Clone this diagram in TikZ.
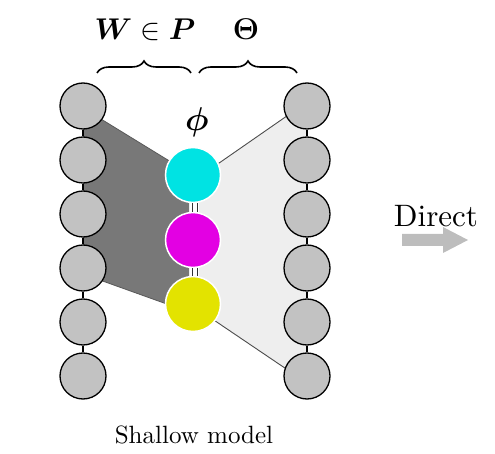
\RequirePackage{fix-cm}
\documentclass[tikz,border=0pt]{standalone}
\usepackage{amsmath,bm}
\usepackage{fontspec}
\setmainfont{lmroman10-regular}[Extension=.otf,BoldFont=lmroman10-bold]
\usetikzlibrary{decorations.pathreplacing}
\definecolor{unitgray}{HTML}{C2C2C2}
\definecolor{darkpoly}{HTML}{787878}
\definecolor{lightpoly}{HTML}{EEEEEE}
\definecolor{mycyan}{HTML}{00E3E3}
\definecolor{mymagenta}{HTML}{E300E3}
\definecolor{myyellow}{HTML}{E3E300}
\definecolor{arrowgray}{HTML}{BDBDBD}
\tikzset{
  unit/.style={circle,draw=black,line width=1.3pt,fill=unitgray,minimum size=46pt,inner sep=0pt},
  hidden/.style={circle,draw=white,line width=1.5pt,minimum size=55pt,inner sep=0pt},
  colline/.style={line width=1.2pt,black},
  bracestyle/.style={decorate,decoration={brace,amplitude=12pt},line width=1.6pt},
  lbl/.style={inner sep=0pt,anchor=base}
}
\begin{document}
\begin{tikzpicture}[x=1pt,y=-1pt]
\useasboundingbox (0,0) rectangle (495,454);
% coordinates
\foreach \i/\y in {1/106,2/160,3/214,4/268,5/322,6/376}{
  \coordinate (l\i) at (83,\y);
  \coordinate (r\i) at (307,\y);
}
\coordinate (cc) at (193,175);
\coordinate (cm) at (193,240);
\coordinate (cy) at (193,304);
% polygons
\fill[darkpoly] (83,108) -- (189,173) -- (189,312) -- (83,274) -- cycle;
\draw[black!65,line width=0.8pt] (83,108) -- (189,173);
\draw[black!65,line width=0.8pt] (83,274) -- (189,312);
\fill[lightpoly] (199,177) -- (307,102) -- (307,383) -- (199,310) -- cycle;
\draw[black!70,line width=0.9pt] (199,177) -- (307,102);
\draw[black!70,line width=0.9pt] (199,310) -- (307,383);
% nodes
\foreach \i in {1,...,6}{
  \node[unit] (L\i) at (l\i) {};
  \node[unit] (R\i) at (r\i) {};
}
\node[hidden,fill=mycyan] (C) at (cc) {};
\node[hidden,fill=mymagenta] (M) at (cm) {};
\node[hidden,fill=myyellow] (Y) at (cy) {};
% column lines
\foreach \a/\b in {1/2,2/3,3/4,4/5,5/6}{
  \draw[colline] (L\a) -- (L\b);
  \draw[colline] (R\a) -- (R\b);
}
\draw[double=white,double distance=4.5pt,line width=1pt,black!80] ([xshift=2pt]C.south) -- ([xshift=2pt]M.north);
\draw[double=white,double distance=4.5pt,line width=1pt,black!80] ([xshift=2pt]M.south) -- ([xshift=2pt]Y.north);
% braces and labels
\coordinate (b1) at (97,73);
\coordinate (b2) at (191,73);
\coordinate (b3) at (199,73);
\coordinate (b4) at (297,73);
\draw[bracestyle] (b1) -- (b2);
\draw[bracestyle] (b3) -- (b4);
\node[lbl] (wp) at (145,40) {\fontsize{30}{34}\selectfont $\bm{W}\in\bm{P}$};
\node[lbl] (th) at (246,40) {\fontsize{30}{34}\selectfont $\bm{\Theta}$};
\node[lbl] (phi) at (197,131) {\fontsize{33}{36}\selectfont $\bm{\phi}$};
\node[lbl] (sm) at (194,443) {\fontsize{25}{30}\selectfont Shallow model};
\node[lbl] (dir) at (436,227) {\fontsize{31}{36}\selectfont Direct};
\fill[arrowgray] (402,234) -- (443,234) -- (443,227) -- (468,240) -- (443,253) -- (443,246) -- (402,246) -- cycle;
\end{tikzpicture}
\end{document}
